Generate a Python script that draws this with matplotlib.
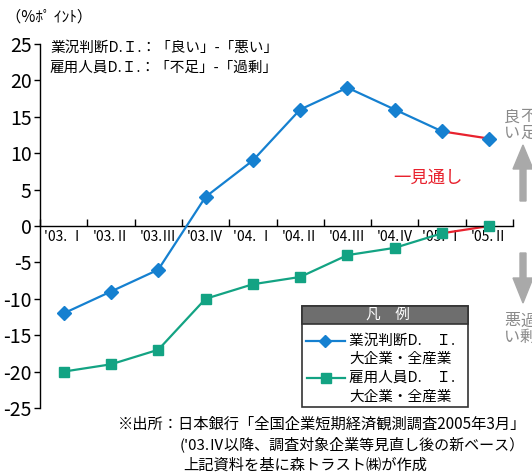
import matplotlib
matplotlib.use("Agg")
import matplotlib.pyplot as plt
from matplotlib.patches import Rectangle, FancyArrow
from matplotlib.lines import Line2D
import matplotlib.transforms as mtransforms

plt.rcParams['font.family'] = ['Noto Sans CJK JP', 'DejaVu Sans']
plt.rcParams['axes.unicode_minus'] = False

# data
quarters = ["'03. Ⅰ", "'03.Ⅱ", "'03.Ⅲ", "'03.Ⅳ", "'04. Ⅰ",
            "'04.Ⅱ", "'04.Ⅲ", "'04.Ⅳ", "'05. Ⅰ", "'05.Ⅱ"]
gyokyo = [-12, -9, -6, 4, 9, 16, 19, 16, 13, 12]
koyo = [-20, -19, -17, -10, -8, -7, -4, -3, -1, 0]
n_actual = 9   # last point is the forecast (見通し)

blue = '#1580d0'
green = '#13a383'
red = '#e8222e'
gray_arrow = '#a9a9a9'
gray_text = '#8a8a8a'

W, H = 532, 472
fig = plt.figure(figsize=(W / 100, H / 100), dpi=100)
ax = fig.add_axes([40 / W, 1 - 408 / H, (513 - 40) / W, (408 - 44) / H])

# pixel coords (top-left origin) -> figure
px = mtransforms.Affine2D().scale(1 / W, -1 / H).translate(0, 1) + fig.transFigure

x = list(range(len(quarters)))
ax.plot(x[n_actual - 1:], gyokyo[n_actual - 1:], color=red, lw=1.6, zorder=2)
ax.plot(x[n_actual - 1:], koyo[n_actual - 1:], color=red, lw=1.6, zorder=2)
ax.plot(x[:n_actual], gyokyo[:n_actual], color=blue, lw=1.6, zorder=3)
ax.plot(x[:n_actual], koyo[:n_actual], color=green, lw=1.6, zorder=3)
ax.plot(x, gyokyo, ls='none', marker='D', ms=7, color=blue, zorder=4, clip_on=False)
ax.plot(x, koyo, ls='none', marker='s', ms=7.5, color=green, zorder=4, clip_on=False)

ax.set_xlim(-0.5, len(quarters) - 0.5)
ax.set_ylim(-25, 25)
ax.set_yticks(range(-25, 30, 5))
ax.tick_params(axis='y', direction='out', length=4, width=1, labelsize=14, pad=2)

ax.set_xticks([i - 0.5 for i in range(len(quarters) + 1)])
ax.set_xticklabels([])
ax.set_xticks(x, minor=True)
ax.set_xticklabels(quarters, minor=True, fontsize=12.5)
ax.tick_params(axis='x', which='major', direction='in', length=5, width=1)
ax.tick_params(axis='x', which='minor', length=0, pad=3)

ax.spines['bottom'].set_position(('data', 0))
ax.spines['top'].set_visible(False)
ax.spines['right'].set_visible(False)
for s in ['left', 'bottom']:
    ax.spines[s].set_linewidth(1)
ax.patch.set_visible(False)

# texts
fig.text(6, 17, '（%ﾎﾟ ｲﾝﾄ）', transform=px, fontsize=11, va='center')
fig.text(50, 48, '業況判断D.Ｉ.：「良い」-「悪い」', transform=px, fontsize=10.5, va='center')
fig.text(50, 68, '雇用人員D.Ｉ.：「不足」-「過剰」', transform=px, fontsize=10.5, va='center')
fig.text(393, 178, '一見通し', transform=px, fontsize=12.5, va='center', color=red)

# right side labels and arrows
fig.text(512, 125, '良\nい', transform=px, fontsize=11.5, color=gray_text,
         ha='center', va='center', linespacing=0.95)
fig.text(528, 125, '不\n足', transform=px, fontsize=11.5, color=gray_text,
         ha='center', va='center', linespacing=0.95)
fig.text(512, 329, '悪\nい', transform=px, fontsize=11.5, color=gray_text,
         ha='center', va='center', linespacing=0.95)
fig.text(528, 329, '過\n剰', transform=px, fontsize=11.5, color=gray_text,
         ha='center', va='center', linespacing=0.95)
fig.add_artist(FancyArrow(523, 201, 0, -56, width=6, head_width=20, head_length=24,
                          length_includes_head=True, color=gray_arrow, transform=px))
fig.add_artist(FancyArrow(523, 253, 0, 50, width=6, head_width=20, head_length=25,
                          length_includes_head=True, color=gray_arrow, transform=px))

# legend box
fig.add_artist(Rectangle((302, 306), 166, 101, transform=px, facecolor='white',
                         edgecolor='#333333', lw=1.2))
fig.add_artist(Rectangle((302, 306), 166, 18, transform=px, facecolor='#6e6e6e',
                         edgecolor='#333333', lw=1.2))
fig.text(388, 315, '凡　例', transform=px, fontsize=10.5, color='white',
         ha='center', va='center')
fig.add_artist(Line2D([306, 345], [341, 341], transform=px, color=blue, lw=1.6))
fig.add_artist(Line2D([325], [341], transform=px, color=blue, marker='D', ms=6))
fig.add_artist(Line2D([307, 345], [378, 378], transform=px, color=green, lw=1.6))
fig.add_artist(Line2D([326], [378], transform=px, color=green, marker='s', ms=6.5))
fig.text(349, 341, '業況判断D.　Ｉ.', transform=px, fontsize=10.5, va='center')
fig.text(349, 359, '大企業・全産業', transform=px, fontsize=10.5, va='center')
fig.text(349, 378, '雇用人員D.　Ｉ.', transform=px, fontsize=10.5, va='center')
fig.text(349, 397, '大企業・全産業', transform=px, fontsize=10.5, va='center')

# source notes
fig.text(526, 424, '※出所：日本銀行「全国企業短期経済観測調査2005年3月」', transform=px,
         fontsize=11, va='center', ha='right')
fig.text(525, 444, "('03.Ⅳ以降、調査対象企業等見直し後の新ベース）", transform=px,
         fontsize=10.8, va='center', ha='right')
fig.text(183, 465, '上記資料を基に森トラスト㈱が作成', transform=px,
         fontsize=11, va='center')

fig.savefig('out.png', dpi=100)
